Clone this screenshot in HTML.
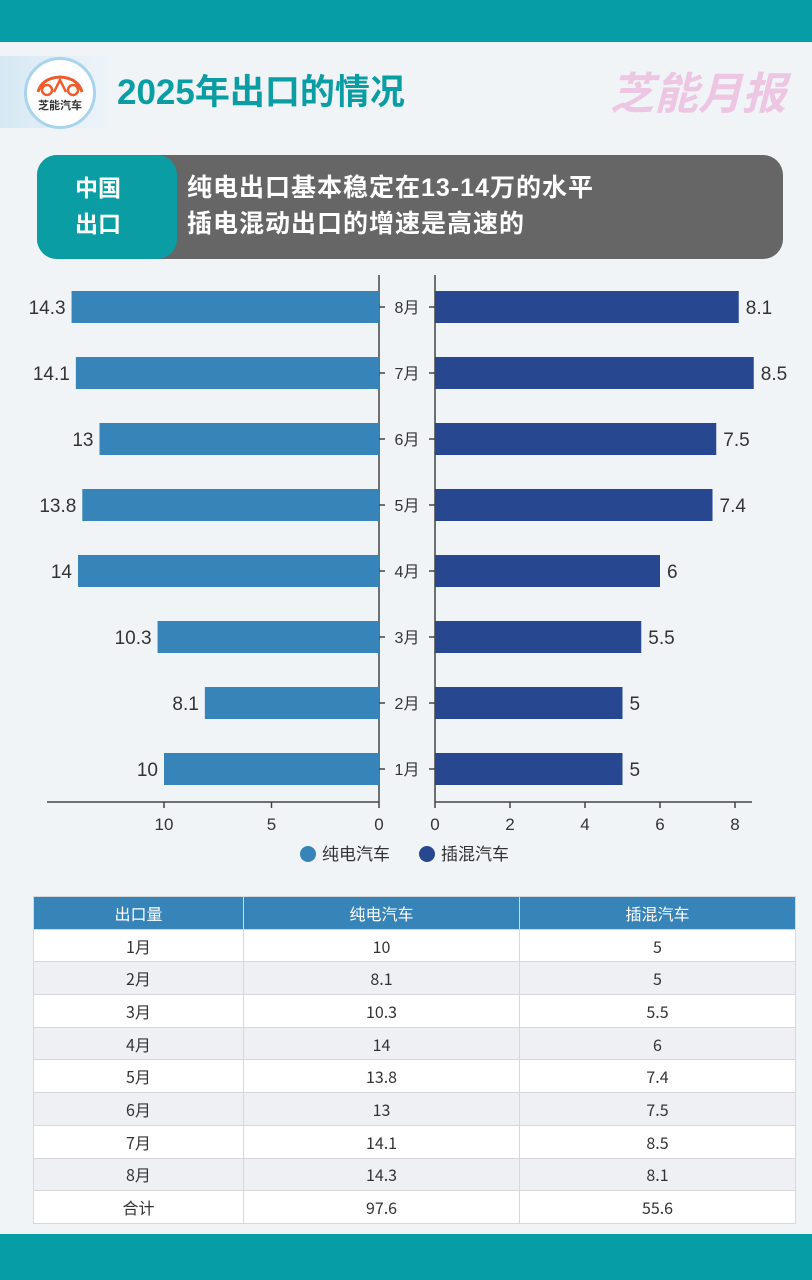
<!DOCTYPE html>
<html><head><meta charset="utf-8"><style>
*{margin:0;padding:0;box-sizing:border-box}
body{width:812px;height:1280px;background:#f1f4f6;position:relative;overflow:hidden;font-family:"Liberation Sans","Noto Sans CJK SC",sans-serif}
.abs{position:absolute}
table{position:absolute;left:33px;top:896px;width:763px;border-collapse:collapse;font-size:16px;color:#333;font-family:"Noto Sans CJK SC",sans-serif}
td,th{border:1px solid #d6d8dc;text-align:center;vertical-align:middle;height:32.7px;line-height:20px;font-weight:normal;padding:0}
th{background:#3784b8;color:#fff}
tr:nth-child(odd) td{background:#eff0f4}
tr:nth-child(even) td{background:#fff}
</style></head><body>
<div class="abs" style="left:0;top:0;width:812px;height:42px;background:#079da6"></div>
<div class="abs" style="left:0;top:56px;width:110px;height:72px;background:linear-gradient(90deg,#d6e8f4,#eef4f8)"></div>
<div class="abs" style="left:24px;top:57px;width:72px;height:72px;border-radius:50%;background:#fff;border:3px solid #a9d4ee"></div>
<svg class="abs" style="left:34px;top:72px" width="52" height="26" viewBox="0 0 52 26"><path d="M4 20 Q8 6 26 5 Q44 6 48 20" fill="none" stroke="#ef5b2a" stroke-width="3"/><circle cx="13" cy="18" r="5" fill="none" stroke="#ef5b2a" stroke-width="2.5"/><circle cx="39" cy="18" r="5" fill="none" stroke="#ef5b2a" stroke-width="2.5"/><path d="M20 20 L26 8 L32 20" fill="none" stroke="#ef5b2a" stroke-width="2.5"/></svg>
<div class="abs" style="left:30px;top:97px;width:60px;text-align:center;font-size:11px;color:#333;font-weight:bold">芝能汽车</div>
<div class="abs" style="left:117px;top:64px;font-size:35px;font-weight:bold;color:#0a9ea4;white-space:nowrap">2025年出口的情况</div>
<div class="abs" style="left:610px;top:58px;font-size:44px;font-weight:bold;font-style:italic;color:#ecc6e2;white-space:nowrap">芝能月报</div>
<div class="abs" style="left:37px;top:155px;width:746px;height:104px;border-radius:20px;background:#666"></div>
<div class="abs" style="left:37px;top:155px;width:140px;height:104px;border-radius:20px;background:#0a9ea4"></div>
<div class="abs" style="left:75px;top:170px;font-size:23px;line-height:36px;font-weight:bold;color:#fff">中国<br>出口</div>
<div class="abs" style="left:187px;top:170px;font-size:25px;line-height:36px;font-weight:bold;color:#fff;white-space:nowrap;letter-spacing:1px">纯电出口基本稳定在13-14万的水平<br>插电混动出口的增速是高速的</div>
<svg class="abs" style="left:0;top:0" width="812" height="880" font-family="Liberation Sans, Noto Sans CJK SC, sans-serif">
<g stroke="#444" stroke-width="1.5" fill="none">
<line x1="379" y1="275" x2="379" y2="802"/><line x1="435" y1="275" x2="435" y2="802"/>
<line x1="47" y1="802" x2="379" y2="802"/><line x1="435" y1="802" x2="752" y2="802"/>
<line x1="164" y1="802" x2="164" y2="808"/><line x1="271.5" y1="802" x2="271.5" y2="808"/><line x1="379" y1="802" x2="379" y2="808"/>
<line x1="435" y1="802" x2="435" y2="808"/><line x1="510" y1="802" x2="510" y2="808"/><line x1="585" y1="802" x2="585" y2="808"/><line x1="660" y1="802" x2="660" y2="808"/><line x1="735" y1="802" x2="735" y2="808"/>
</g>
<g font-size="17" fill="#333" text-anchor="middle">
<text x="164" y="830">10</text><text x="271.5" y="830">5</text><text x="379" y="830">0</text>
<text x="435" y="830">0</text><text x="510" y="830">2</text><text x="585" y="830">4</text><text x="660" y="830">6</text><text x="735" y="830">8</text>
</g>
<g id="bars"></g>
<circle cx="308" cy="854" r="8" fill="#3784b8"/><text x="322" y="860" font-size="17" fill="#333">纯电汽车</text>
<circle cx="427" cy="854" r="8" fill="#274891"/><text x="441" y="860" font-size="17" fill="#333">插混汽车</text>
</svg>
<script>
var d=[["8月",14.3,8.1],["7月",14.1,8.5],["6月",13,7.5],["5月",13.8,7.4],["4月",14,6],["3月",10.3,5.5],["2月",8.1,5],["1月",10,5]];
var s="";d.forEach(function(r,i){var y=307+i*66,lw=r[1]*21.5,rw=r[2]*37.5;
s+='<rect x="'+(379-lw)+'" y="'+(y-16)+'" width="'+lw+'" height="32" fill="#3784b8"/>';
s+='<rect x="435" y="'+(y-16)+'" width="'+rw+'" height="32" fill="#274891"/>';
s+='<line x1="379" y1="'+y+'" x2="385" y2="'+y+'" stroke="#444" stroke-width="1.5"/><line x1="429" y1="'+y+'" x2="435" y2="'+y+'" stroke="#444" stroke-width="1.5"/>';
s+='<text x="407" y="'+(y+6)+'" font-size="16" fill="#333" text-anchor="middle">'+r[0]+'</text>';
s+='<text x="'+(379-lw-6)+'" y="'+(y+7)+'" font-size="19" fill="#333" text-anchor="end">'+r[1]+'</text>';
s+='<text x="'+(435+rw+7)+'" y="'+(y+7)+'" font-size="19" fill="#333">'+r[2]+'</text>';});
document.getElementById("bars").innerHTML=s;
</script>
<table>
<tr><th style="width:210px">出口量</th><th style="width:276px">纯电汽车</th><th>插混汽车</th></tr>
<tr><td>1月</td><td>10</td><td>5</td></tr>
<tr><td>2月</td><td>8.1</td><td>5</td></tr>
<tr><td>3月</td><td>10.3</td><td>5.5</td></tr>
<tr><td>4月</td><td>14</td><td>6</td></tr>
<tr><td>5月</td><td>13.8</td><td>7.4</td></tr>
<tr><td>6月</td><td>13</td><td>7.5</td></tr>
<tr><td>7月</td><td>14.1</td><td>8.5</td></tr>
<tr><td>8月</td><td>14.3</td><td>8.1</td></tr>
<tr><td>合计</td><td>97.6</td><td>55.6</td></tr>
</table>
<div class="abs" style="left:0;top:1234px;width:812px;height:46px;background:#079da6"></div>
</body></html>
